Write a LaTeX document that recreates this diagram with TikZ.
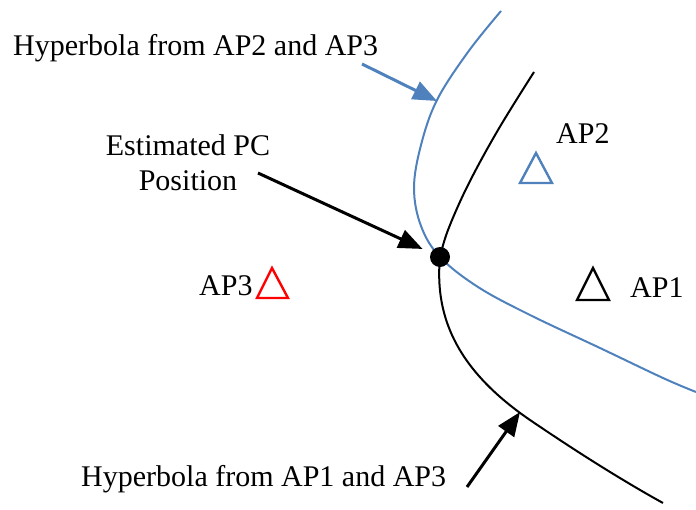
\documentclass[tikz,border=0pt]{standalone}
\usepackage{fontspec}
\setmainfont{Liberation Serif}
\usetikzlibrary{arrows.meta}
\definecolor{hypblue}{RGB}{79,129,189}
\definecolor{apred}{RGB}{255,0,0}
\begin{document}
\begin{tikzpicture}[x=1pt,y=-1pt,
  lbl/.style={inner sep=0pt,anchor=base west,font=\fontsize{30}{35}\selectfont},
  hyp/.style={line width=2pt,line join=round},
  pointer/.style={line width=3pt,-{Triangle[length=24pt,width=19pt]}},
  apmark/.style={line width=2.4pt,line join=miter}]
\useasboundingbox (0,0) rectangle (696,509);

% hyperbola from AP2 and AP3
\draw[hyp,hypblue] plot[smooth,tension=0.6] coordinates {
  (501,11) (468,52) (437,100) (421,145) (414,188) (421,226) (440,257)
  (478,287) (530,315) (600,348) (663,378) (696,392)};
% hyperbola from AP1 and AP3 (upper and lower branch pieces)
\draw[hyp,black] plot[smooth,tension=0.6] coordinates {
  (534,72) (498,130) (468,185) (448,230) (440,257)};
\draw[hyp,black] (440,257) .. controls (434,320) and (460,372) .. (530,420)
  .. controls (580,454) and (625,482) .. (663,503);

% estimated position
\node[circle,fill=black,minimum size=20pt,inner sep=0pt] (pc) at (440,257) {};

% access points
\draw[apmark,hypblue] (536,153) -- (552,183) -- (520,183) -- cycle;
\draw[apmark,black] (593,268) -- (609,300) -- (577,300) -- cycle;
\draw[apmark,apred] (272,268) -- (288,298) -- (257,298) -- cycle;
\node[lbl] (lap2) at (556,143) {AP2};
\node[lbl] (lap1) at (630,297) {AP1};
\node[lbl] (lap3) at (199,295) {AP3};

% labels
\node[lbl] (topl) at (13,55) {Hyperbola from AP2 and AP3};
\node[lbl] (botl) at (81,486) {Hyperbola from AP1 and AP3};
\node[inner sep=0pt,align=center,font=\fontsize{30}{35}\selectfont] (estl) at (188,163)
  {Estimated PC\\Position};

% pointers
\coordinate (s1) at (362,64);
\coordinate (t1) at (437,101);
\coordinate (s2) at (258,173);
\coordinate (s3) at (467,487);
\coordinate (t3) at (520,412);
\draw[pointer,hypblue] (s1) -- (t1);
\draw[pointer,black,shorten >=9pt] (s2) -- (pc);
\draw[pointer,black] (s3) -- (t3);
\end{tikzpicture}
\end{document}
